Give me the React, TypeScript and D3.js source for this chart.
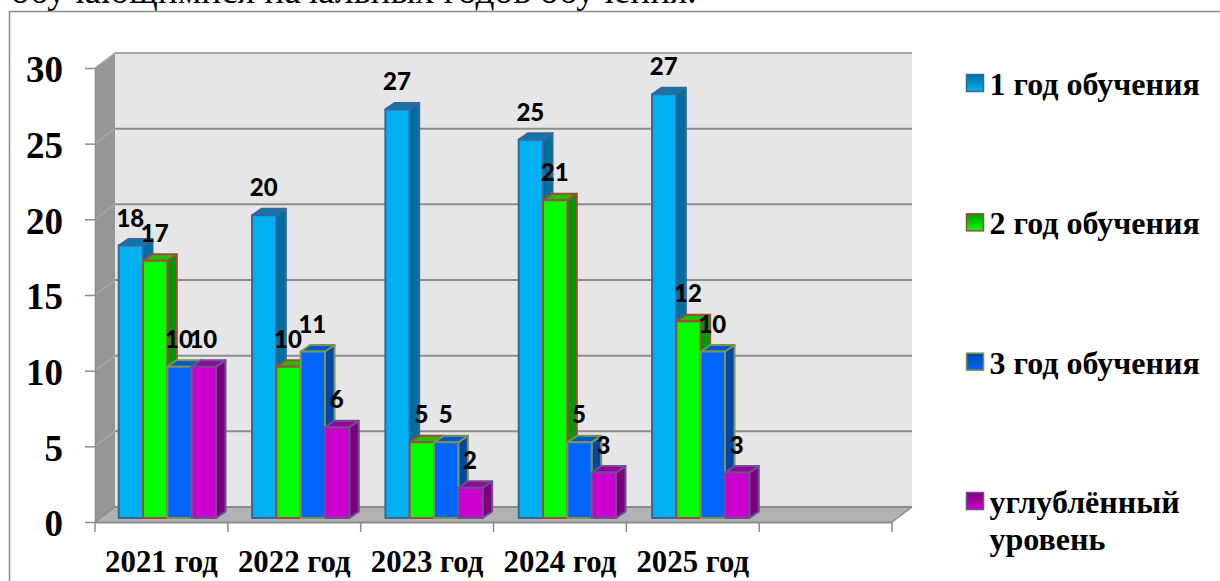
import React, { useEffect, useRef } from 'react';
import * as d3 from 'd3';

const categories = ['2021 год', '2022 год', '2023 год', '2024 год', '2025 год', ' '];
const seriesNames = ['1 год обучения', '2 год обучения', '3 год обучения', 'углублённый уровень'];

// bar heights as drawn
const year1 = [18, 20, 27, 25, 28];
const year2 = [17, 10, 5, 21, 13];
const year3 = [10, 11, 5, 5, 11];
const advanced = [10, 6, 2, 3, 3];

// printed labels (2025 differs from the bar heights in the source picture)
const year1Labels = ['18', '20', '27', '25', '27'];
const year2Labels = ['17', '10', '5', '21', '12'];
const year3Labels = ['10', '11', '5', '5', '10'];
const advancedLabels = ['10', '6', '2', '3', '3'];

const yTicks = [0, 5, 10, 15, 20, 25, 30];

const palette = [
  { front: '#00b0f0', side: '#006f9e', top: '#0f75aa', stroke: '#36689c' },
  { front: '#00ff00', side: '#009a00', top: '#20c000', stroke: '#a04a40' },
  { front: '#0066ff', side: '#0047a8', top: '#0058cc', stroke: '#7a9450' },
  { front: '#cc00cc', side: '#7c007c', top: '#990099', stroke: '#6c5090' }
];

const SERIF = '"Liberation Serif", serif';

export default function App() {
  const svgRef = useRef<SVGSVGElement>(null);

  useEffect(() => {
    if (!svgRef.current) return;
    const svg = d3.select(svgRef.current);
    svg.selectAll('*').remove();

    const width = 1220;
    const height = 581;

    const y = d3.scaleLinear().domain([0, 30]).range([522, 68]);
    const x = d3.scaleBand<string>().domain(categories).range([95, 892]);
    // the bars stand slightly in front of the axis, their step is a bit wider
    const groupX = d3.scaleBand<string>().domain(categories).range([95, 895]);
    const barX = d3.scaleBand<number>().domain([0, 1, 2, 3]).range([23.7, 121]);

    // wall depth, and where the bars stand on the floor
    const wallDx = 20;
    const wallDy = -15;
    const barLift = -4;
    const barDx = 9.5;
    const barDy = -6.5;

    const values = [year1, year2, year3, advanced];
    const labels = [year1Labels, year2Labels, year3Labels, advancedLabels];

    svg.append('rect').attr('width', width).attr('height', height).attr('fill', '#fff');

    // text line above the chart, cut by the top of the picture
    svg.append('text')
      .attr('x', 11)
      .attr('y', 3)
      .style('font-family', SERIF)
      .style('font-size', '37.3px')
      .text('обучающимися начальных годов обучения.');

    // frame of the chart, open to the right and bottom
    svg.append('path')
      .attr('d', d3.line()([[9.5, height], [9.5, 11.5], [width, 11.5]]))
      .attr('fill', 'none')
      .attr('stroke', '#8c8c8c')
      .attr('stroke-width', 1.5);

    const [xLeft, xRight] = x.range();
    const poly = (pts: [number, number][]) => d3.line()(pts) + 'Z';

    // back wall
    svg.append('path')
      .attr('d', poly([
        [xLeft + wallDx, y(30) + wallDy],
        [xRight + wallDx, y(30) + wallDy],
        [xRight + wallDx, y(0) + wallDy],
        [xLeft + wallDx, y(0) + wallDy]
      ]))
      .attr('fill', '#e6e6e6');

    // left wall
    svg.append('path')
      .attr('d', poly([
        [xLeft, y(30)],
        [xLeft + wallDx, y(30) + wallDy],
        [xLeft + wallDx, y(0) + wallDy],
        [xLeft, y(0)]
      ]))
      .attr('fill', '#969696');

    // floor
    svg.append('path')
      .attr('d', poly([
        [xLeft, y(0)],
        [xRight, y(0)],
        [xRight + wallDx, y(0) + wallDy],
        [xLeft + wallDx, y(0) + wallDy]
      ]))
      .attr('fill', '#b2b2b2');

    // grid lines on the walls
    const grid = svg.append('g');
    yTicks.forEach(t => {
      grid.append('line')
        .attr('x1', xLeft + wallDx)
        .attr('x2', xRight + wallDx)
        .attr('y1', y(t) + wallDy)
        .attr('y2', y(t) + wallDy)
        .attr('stroke', t === 30 ? '#a6a6a6' : '#8c8c8c')
        .attr('stroke-width', 2);
      grid.append('line')
        .attr('x1', xLeft)
        .attr('x2', xLeft + wallDx)
        .attr('y1', y(t))
        .attr('y2', y(t) + wallDy)
        .attr('stroke', t === 0 ? '#8c8c8c' : '#a6a6a6')
        .attr('stroke-width', 1.5);
    });
    grid.append('line')
      .attr('x1', xRight)
      .attr('x2', xRight + wallDx)
      .attr('y1', y(0))
      .attr('y2', y(0) + wallDy)
      .attr('stroke', '#8c8c8c')
      .attr('stroke-width', 1.5);

    // y axis
    const yAxis = svg.append('g')
      .attr('transform', `translate(${xLeft},0)`)
      .call(d3.axisLeft(y).tickValues(yTicks).tickSize(10).tickSizeOuter(0).tickPadding(22));
    yAxis.select('.domain').attr('stroke', '#8c8c8c').attr('stroke-width', 1.5);
    yAxis.selectAll('.tick line').attr('stroke', '#8c8c8c').attr('stroke-width', 1.5);
    yAxis.selectAll('.tick text')
      .attr('dy', '0.37em')
      .style('font-family', SERIF)
      .style('font-size', '37px')
      .style('font-weight', 'bold')
      .attr('fill', '#000');

    // x axis, ticks sit on the band edges
    const xAxis = svg.append('g')
      .attr('transform', `translate(0,${y(0)})`)
      .call(d3.axisBottom(x).tickSize(0).tickPadding(28));
    xAxis.select('.domain').attr('stroke', '#8c8c8c').attr('stroke-width', 2);
    xAxis.selectAll('.tick line').remove();
    xAxis.selectAll('.tick text')
      .style('font-family', SERIF)
      .style('font-size', '30.8px')
      .style('font-weight', 'bold')
      .attr('fill', '#000');
    [...categories.map(c => x(c) as number), xRight].forEach(v => {
      xAxis.append('line')
        .attr('x1', v)
        .attr('x2', v)
        .attr('y1', 0)
        .attr('y2', 10)
        .attr('stroke', '#8c8c8c')
        .attr('stroke-width', 1.5);
    });

    // bars, left to right so each one covers the side of the one before
    const bars = svg.append('g');
    const barW = barX.bandwidth();
    categories.slice(0, 5).forEach((cat, c) => {
      values.forEach((vals, s) => {
        const col = palette[s];
        const x0 = (groupX(cat) as number) + (barX(s) as number);
        const x1 = x0 + barW;
        const y0 = y(0) + barLift;
        const yt = y(vals[c]) + barLift;
        const g = bars.append('g')
          .attr('stroke', col.stroke)
          .attr('stroke-width', 2)
          .attr('stroke-linejoin', 'round');
        g.append('path')
          .attr('d', poly([[x1, yt], [x1 + barDx, yt + barDy], [x1 + barDx, y0 + barDy], [x1, y0]]))
          .attr('fill', col.side);
        g.append('path')
          .attr('d', poly([[x0, yt], [x0 + barDx, yt + barDy], [x1 + barDx, yt + barDy], [x1, yt]]))
          .attr('fill', col.top);
        g.append('rect')
          .attr('x', x0)
          .attr('y', yt)
          .attr('width', barW)
          .attr('height', y0 - yt)
          .attr('fill', col.front);
      });
    });

    // data labels go above everything
    const labelLayer = svg.append('g')
      .style('font-family', 'Lato, sans-serif')
      .style('font-size', '24px')
      .style('font-weight', 900)
      .attr('text-anchor', 'middle');
    categories.slice(0, 5).forEach((cat, c) => {
      values.forEach((vals, s) => {
        labelLayer.append('text')
          .attr('x', (groupX(cat) as number) + (barX(s) as number) + barW / 2 - 0.5)
          .attr('y', y(vals[c]) + barLift - 19)
          .text(labels[s][c]);
      });
    });

    // legend
    const defs = svg.append('defs');
    palette.forEach((col, i) => {
      const grad = defs.append('linearGradient')
        .attr('id', `legend-${i}`)
        .attr('x1', 0)
        .attr('y1', 0)
        .attr('x2', 0)
        .attr('y2', 1);
      grad.append('stop').attr('offset', '0%').attr('stop-color', col.side);
      grad.append('stop').attr('offset', '100%').attr('stop-color', col.front);
    });
    const legendY = d3.scalePoint<string>().domain(seriesNames).range([83, 501]);
    const legend = svg.append('g');
    seriesNames.forEach((name, i) => {
      const ly = legendY(name) as number;
      legend.append('rect')
        .attr('x', 966.5)
        .attr('y', ly - 8.5)
        .attr('width', 17)
        .attr('height', 17)
        .attr('fill', `url(#legend-${i})`)
        .attr('stroke', palette[i].stroke)
        .attr('stroke-width', 1.5);
      const words = i === 3 ? name.split(' ') : [name];
      words.forEach((w, k) => {
        legend.append('text')
          .attr('x', 989.5)
          .attr('y', ly + 12 + k * 36.5)
          .style('font-family', SERIF)
          .style('font-size', '32px')
          .style('font-weight', 'bold')
          .text(w);
      });
    });
  }, []);

  return (
    <svg
      ref={svgRef}
      width={1220}
      height={581}
      style={{ position: 'absolute', left: 0, top: 0, display: 'block' }}
    />
  );
}
